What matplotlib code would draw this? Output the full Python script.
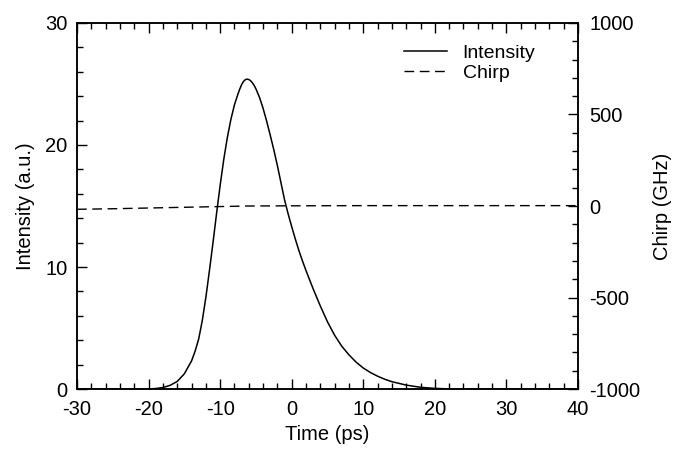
import numpy as np
import matplotlib
matplotlib.use("Agg")
import matplotlib.pyplot as plt
from matplotlib.ticker import MultipleLocator

plt.rcParams['font.family'] = ['Liberation Sans', 'DejaVu Sans']
plt.rcParams['axes.unicode_minus'] = False

# intensity pulse (a.u.)
time_int = [-30, -25, -22, -20, -19, -18, -17, -16, -15, -14, -13.5, -13,
            -12.5, -12, -11.5, -11, -10.5, -10, -9.5, -9, -8.5, -8, -7.5,
            -7.25, -7, -6.75, -6.5, -6.25, -6, -5.75, -5.5, -5.25, -5, -4.5,
            -4, -3.5, -3, -2.5, -2, -1.5, -1, -0.5, 0, 0.5, 1, 1.5, 2, 3, 4,
            5, 6, 7, 8, 9, 10, 11, 12, 13, 14, 16, 18, 20, 22, 25, 30, 40]
intensity = [0, 0, 0, 0.01, 0.04, 0.12, 0.3, 0.62, 1.25, 2.3, 3.1, 4.1,
             5.6, 7.5, 9.7, 12.0, 14.4, 16.7, 18.8, 20.6, 22.1, 23.3, 24.2,
             24.6, 24.95, 25.2, 25.35, 25.4, 25.37, 25.27, 25.1, 24.88, 24.6,
             23.9, 23.0, 21.95, 20.8, 19.6, 18.3, 16.9, 15.5, 14.35, 13.3,
             12.3, 11.35, 10.5, 9.7, 8.2, 6.8, 5.5, 4.4, 3.5, 2.8, 2.2, 1.72,
             1.35, 1.05, 0.8, 0.6, 0.32, 0.14, 0.05, 0.01, 0, 0, 0]

# chirp (GHz)
time_chirp = [-30, -25, -20, -15, -10, -6, 0, 10, 20, 30, 40]
chirp = [-18, -15, -11, -7, -3, 0, 1, 2, 2, 2, 2]

fig = plt.figure(figsize=(6.78, 4.49), dpi=100)
ax = fig.add_axes([0.1136, 0.1336, 0.7389, 0.8152])
ax2 = ax.twinx()

l1, = ax.plot(time_int, intensity, color="black", lw=1.1, label="Intensity")
l2, = ax2.plot(time_chirp, chirp, color="black", lw=1.0, label="Chirp")
l2.set_dashes([7, 4])

ax.set_xlim(-30, 40)
ax.set_ylim(0, 30)
ax2.set_ylim(-1000, 1000)

ax.xaxis.set_major_locator(MultipleLocator(10))
ax.xaxis.set_minor_locator(MultipleLocator(2))
ax.yaxis.set_major_locator(MultipleLocator(10))
ax.yaxis.set_minor_locator(MultipleLocator(2))
ax2.yaxis.set_major_locator(MultipleLocator(500))
ax2.yaxis.set_minor_locator(MultipleLocator(100))

ax.tick_params(axis="x", which="both", direction="in", top=True, bottom=True,
               width=1, labelsize=14.5, pad=8)
ax.tick_params(axis="y", which="both", direction="in", left=True, right=False,
               width=1, labelsize=14.5, pad=7)
ax.tick_params(which="major", length=7)
ax.tick_params(which="minor", length=4)
ax2.tick_params(axis="y", which="both", direction="in", right=True,
                width=1, labelsize=14.5, pad=8)
ax2.tick_params(which="major", length=7)
ax2.tick_params(which="minor", length=4)

for a in (ax, ax2):
    for s in a.spines.values():
        s.set_linewidth(1.1)

ax.set_xlabel("Time (ps)", fontsize=14.5, labelpad=4)
ax.set_ylabel("Intensity (a.u.)", fontsize=14.5, labelpad=7)
ax2.set_ylabel("Chirp (GHz)", fontsize=14.5, labelpad=9)

leg = ax.legend(handles=[l1, l2], loc="upper right", frameon=False,
                fontsize=14, handlelength=2.2, handletextpad=0.8,
                labelspacing=0.15, bbox_to_anchor=(0.95, 0.99))

fig.savefig("out.png", dpi=100)
